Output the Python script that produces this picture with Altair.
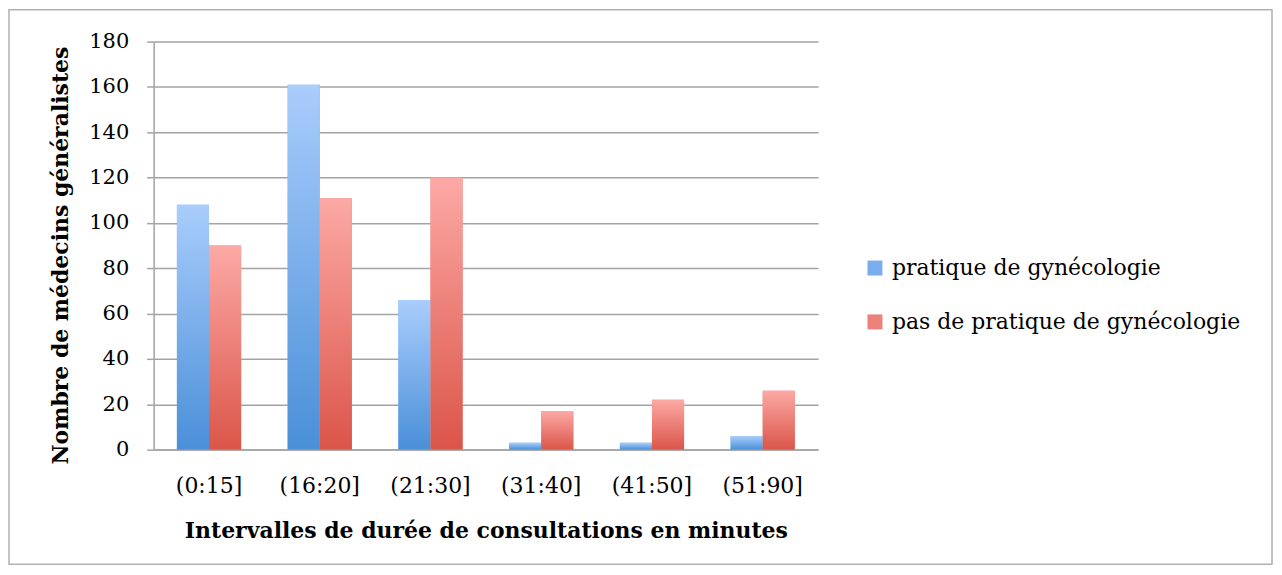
import altair as alt
import pandas as pd

categories = ["(0:15]", "(16:20]", "(21:30]", "(31:40]", "(41:50]", "(51:90]"]
series = ["pratique de gynécologie", "pas de pratique de gynécologie"]
pratique = [108, 161, 66, 3, 3, 6]
pas_pratique = [90, 111, 120, 17, 22, 26]
y_ticks = [0, 20, 40, 60, 80, 100, 120, 140, 160, 180]

rows = []
for c, a, b in zip(categories, pratique, pas_pratique):
    rows.append({"cat": c, "serie": series[0], "n": a})
    rows.append({"cat": c, "serie": series[1], "n": b})
df = pd.DataFrame(rows)

FONT = "DejaVu Serif"
GRAY = "#a3a3a3"
W, H = 666, 409

x = alt.X(
    "cat:N",
    sort=categories,
    scale=alt.Scale(paddingInner=0.42, paddingOuter=0.21),
    axis=alt.Axis(
        title="Intervalles de durée de consultations en minutes",
        labelAngle=0,
        ticks=False,
        labelPadding=26,
        labelFontSize=22,
        labelFont=FONT,
        labelColor="black",
        domainColor=GRAY,
        domainWidth=1.5,
        titleFont=FONT,
        titleFontSize=22,
        titleFontWeight="bold",
        titleColor="black",
        titlePadding=24,
    ),
)
xo = alt.XOffset("serie:N", sort=series, scale=alt.Scale(domain=series, paddingInner=0, paddingOuter=0))
y = alt.Y(
    "n:Q",
    scale=alt.Scale(domain=[0, 180], nice=False),
    axis=alt.Axis(
        title="Nombre de médecins généralistes",
        values=y_ticks,
        tickSize=7,
        tickColor=GRAY,
        tickWidth=1.5,
        gridColor=GRAY,
        gridWidth=1.5,
        domainColor=GRAY,
        domainWidth=1.5,
        labelPadding=18,
        labelFontSize=21,
        labelFont=FONT,
        labelColor="black",
        titleFont=FONT,
        titleFontSize=22,
        titleFontWeight="bold",
        titleColor="black",
        titlePadding=16,
        titleY=214,
    ),
)

grad_blue = alt.Gradient(
    gradient="linear",
    x1=0, x2=0, y1=0, y2=1,
    stops=[alt.GradientStop(color="#a9cdfc", offset=0), alt.GradientStop(color="#4a8fd8", offset=1)],
)
grad_red = alt.Gradient(
    gradient="linear",
    x1=0, x2=0, y1=0, y2=1,
    stops=[alt.GradientStop(color="#fca9a5", offset=0), alt.GradientStop(color="#db5549", offset=1)],
)

base = alt.Chart(df).encode(x=x, xOffset=xo, y=y)

solid = base.mark_bar().encode(
    color=alt.Color(
        "serie:N",
        sort=series,
        scale=alt.Scale(domain=series, range=["#7aaeea", "#ec807a"]),
        legend=alt.Legend(
            title=None,
            orient="none",
            legendX=712,
            legendY=216,
            symbolType="square",
            symbolSize=225,
            symbolStrokeWidth=0,
            labelFontSize=22,
            labelFont=FONT,
            labelColor="black",
            labelOffset=6,
            rowPadding=32,
            labelLimit=500,
        ),
    )
)
bars_a = base.transform_filter(alt.datum.serie == series[0]).mark_bar(fill=grad_blue)
bars_b = base.transform_filter(alt.datum.serie == series[1]).mark_bar(fill=grad_red)

frame = alt.Chart(pd.DataFrame({"k": [0]})).mark_rect(
    filled=False, stroke="#b0b0b0", strokeWidth=1.5
).encode(
    x=alt.value(-145), x2=alt.value(W + 455), y=alt.value(-32), y2=alt.value(H + 115)
)

chart = (
    alt.layer(frame, solid, bars_a, bars_b)
    .properties(
        width=W,
        height=H,
        autosize=alt.AutoSizeParams(type="none"),
        padding={"left": 146, "top": 33, "right": 457, "bottom": 117},
    )
    .configure_view(stroke=None)
)

chart.save("out.html", embed_options={"renderer": "svg", "actions": False})
